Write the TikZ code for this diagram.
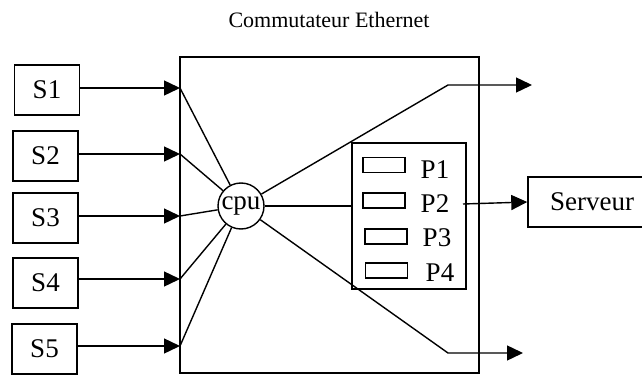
\documentclass[tikz,border=0pt]{standalone}
\usepackage{fontspec}
\setmainfont{Liberation Serif}
\usetikzlibrary{arrows.meta}

\tikzset{
  frame/.style={draw, line width=1.5pt},
  wire/.style={line width=1.4pt},
  arr/.style={wire, -{Triangle[length=16pt,width=15pt]}},
  lbl/.style={font=\fontsize{27}{27}\selectfont},
  srcbox/.style={frame, lbl, minimum width=65pt, minimum height=50pt, inner sep=0pt},
  port/.style={draw, line width=1.5pt, minimum width=42pt, minimum height=15pt, inner sep=0pt},
  plabel/.style={lbl, anchor=base, inner sep=0pt},
}

\begin{document}
\begin{tikzpicture}[x=1pt, y=-1pt]
  \useasboundingbox (0,0) rectangle (642,377);

  % title and switch enclosure
  \node[anchor=base, font=\fontsize{22}{22}\selectfont, inner sep=0pt] (title) at (329,28) {Commutateur Ethernet};
  \node[frame, minimum width=299pt, minimum height=316pt, inner sep=0pt] (sw) at (329.5,215) {};

  % stations
  \node[srcbox] (s1) at (47,90)   {S1};
  \node[srcbox] (s2) at (45.5,156) {S2};
  \node[srcbox] (s3) at (45.5,218) {S3};
  \node[srcbox] (s4) at (45.5,283) {S4};
  \node[srcbox] (s5) at (44.5,349) {S5};

  % entry points on the switch
  \coordinate (in1) at (180,88);
  \coordinate (in2) at (180,154);
  \coordinate (in3) at (180,216);
  \coordinate (in4) at (180,279);
  \coordinate (in5) at (180,346);

  % processor
  \node[draw, circle, line width=1.4pt, minimum size=46pt, inner sep=0pt, lbl] (cpu) at (241,206) {cpu};

  % port block
  \node[frame, minimum width=114pt, minimum height=146pt, inner sep=0pt] (pbox) at (409,216) {};
  \node[port] (r1) at (384,165)   {};
  \node[port] (r2) at (384,200.5) {};
  \node[port] (r3) at (386,236.5) {};
  \node[port] (r4) at (386.5,270.5) {};
  \node[plabel] (p1) at (435,178) {P1};
  \node[plabel] (p2) at (435,212) {P2};
  \node[plabel] (p3) at (437,246) {P3};
  \node[plabel] (p4) at (440,281) {P4};

  % server
  \node[frame, lbl, minimum width=128pt, minimum height=50pt, inner sep=0pt] (srv) at (592,202) {Serveur};

  % station links
  \foreach \i in {1,...,5} {
    \draw[arr] (in\i -| s\i.east) -- (in\i);
    \draw[wire] (in\i) -- (cpu);
  }

  % outgoing links
  \coordinate (ku) at (448,85);
  \coordinate (ou) at (532,85);
  \coordinate (kd) at (448,353);
  \coordinate (od) at (523,353);
  \draw[arr] (cpu) -- (ku) -- (ou);
  \draw[arr] (cpu) -- (kd) -- (od);
  \draw[wire] (cpu) -- (cpu -| pbox.west);

  % port 2 to server
  \coordinate (p2out) at (463,204);
  \draw[arr] (p2out) -- (srv.west);
\end{tikzpicture}
\end{document}
